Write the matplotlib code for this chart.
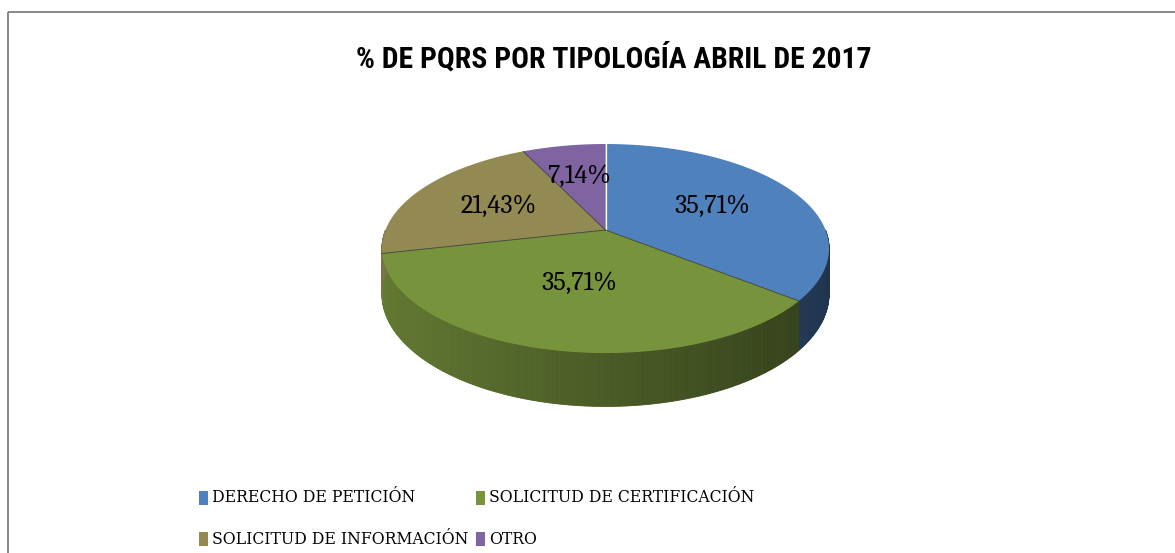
import matplotlib

matplotlib.use("Agg")
import matplotlib.pyplot as plt
import numpy as np
from matplotlib.collections import PolyCollection
from matplotlib.colors import to_rgb
from matplotlib.patches import Polygon, Rectangle

# datos del gráfico
categorias = [
    "DERECHO DE PETICIÓN",
    "SOLICITUD DE CERTIFICACIÓN",
    "SOLICITUD DE INFORMACIÓN",
    "OTRO",
]
porcentajes = [35.71, 35.71, 21.43, 7.14]
colores = ["#4F81BD", "#77933C", "#938953", "#8064A2"]
titulo = "% DE PQRS POR TIPOLOGÍA ABRIL DE 2017"

# geometría de la torta 3D (en píxeles de la figura)
CX, CY = 605.5, 230.0
RX, RY = 220.0, 101.2
PERSP = 0.177
ALTO = 44.0
R_ETIQ = 0.54


def proyectar(t, f=1.0):
    t = np.radians(t)
    d = 1.0 / (1.0 + PERSP * f * np.sin(t))
    x = CX + RX * f * np.cos(t) * d
    y = CY - RY * f * np.sin(t) * d
    return x, y, d


def sombra(t):
    return 0.62 - 0.22 * np.cos(np.radians(t))


fig = plt.figure(figsize=(11.75, 5.53), dpi=100)
ax = fig.add_axes([0, 0, 1, 1])
ax.set_xlim(0, 1175)
ax.set_ylim(553, 0)
ax.axis("off")

# marco del gráfico (el borde derecho e inferior quedan fuera de la imagen)
ax.add_patch(
    Rectangle((8, 12), 1180, 560, fill=False, edgecolor="#868686", linewidth=1.4)
)

fracciones = np.array(porcentajes) / np.sum(porcentajes)
fin = 90 - 360 * np.cumsum(fracciones)
inicio = np.concatenate([[90], fin[:-1]])

# paredes laterales (solo la mitad frontal es visible)
polys, cols = [], []
for a0, a1, col in zip(inicio, fin, colores):
    lo, hi = max(a1, -180), min(a0, 0)
    if hi <= lo:
        continue
    ts = np.linspace(lo, hi, int((hi - lo) / 0.5) + 2)
    base = np.array(to_rgb(col))
    for ta, tb in zip(ts[:-1], ts[1:]):
        xa, ya, da = proyectar(ta)
        xb, yb, db = proyectar(tb)
        polys.append(
            [(xa, ya), (xb, yb), (xb, yb + ALTO * db), (xa, ya + ALTO * da)]
        )
        cols.append(np.clip(base * sombra((ta + tb) / 2), 0, 1))
ax.add_collection(
    PolyCollection(polys, facecolors=cols, edgecolors=cols, linewidths=0.6)
)

# caras superiores
for a0, a1, col in zip(inicio, fin, colores):
    ts = np.linspace(a0, a1, 200)
    xs, ys, _ = proyectar(ts)
    pts = [(CX, CY)] + list(zip(xs, ys))
    ax.add_patch(Polygon(pts, closed=True, facecolor=col, edgecolor="none"))

# separaciones entre porciones
for k, a in enumerate(inicio):
    x, y, _ = proyectar(a)
    ax.plot([CX, x], [CY, y], color="white" if k == 0 else "#3b3b3b",
            linewidth=0.9 if k == 0 else 0.6)

# etiquetas de porcentaje
for a0, a1, p in zip(inicio, fin, porcentajes):
    mid = np.radians((a0 + a1) / 2)
    x = CX + RX * R_ETIQ * np.cos(mid)
    y = CY - RY * R_ETIQ * np.sin(mid)
    ax.text(x, y, f"{p:.2f}%".replace(".", ","), ha="center", va="center",
            fontsize=19, family=["Caladea", "DejaVu Serif"], color="black")

# título
ax.text(614, 58, titulo, ha="center", va="center", fontsize=21.3,
        fontweight="bold", family=["Roboto Condensed", "DejaVu Sans"])

# leyenda
LEG_X = [199, 476]
LEG_Y = [498, 539]
for i, (cat, col) in enumerate(zip(categorias, colores)):
    fila, colu = divmod(i, 2)
    ax.add_patch(Rectangle((LEG_X[colu], LEG_Y[fila] - 7), 9, 14,
                           facecolor=col, edgecolor="none"))
    ax.text(LEG_X[colu] + 13, LEG_Y[fila], cat, ha="left", va="center",
            fontsize=12.5, family="DejaVu Serif", fontstretch="condensed")

fig.savefig("out.png")
